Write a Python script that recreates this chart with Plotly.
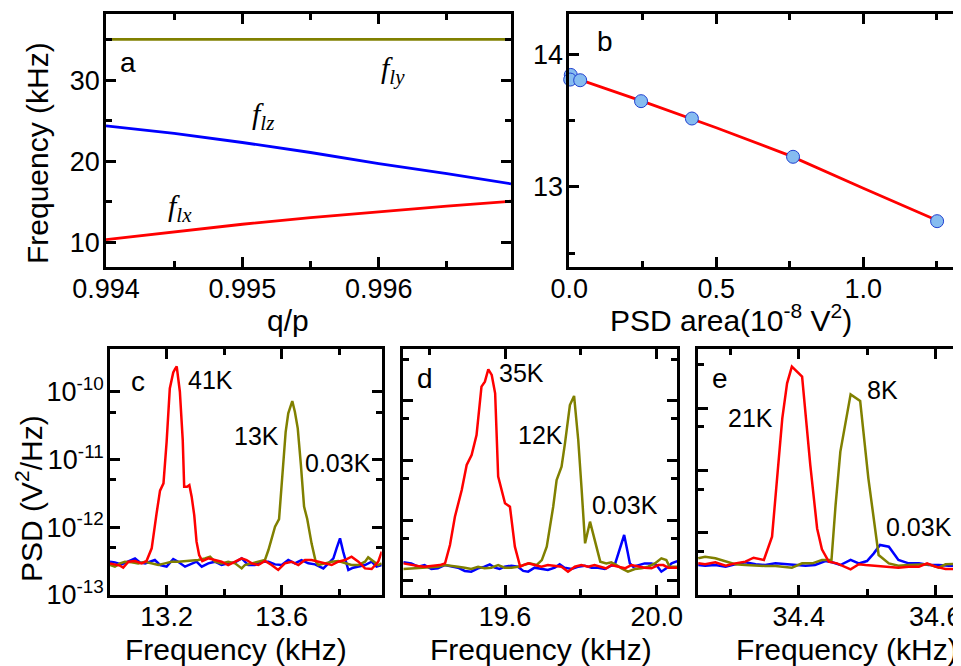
import plotly.graph_objects as go

# ---------------- panel a ----------------
qp = [0.994, 0.9945, 0.995, 0.9955, 0.996, 0.9965, 0.99697]
f_lx = [10.37, 11.31, 12.26, 13.08, 13.82, 14.48, 15.09]
f_lz = [24.37, 23.43, 22.32, 21.09, 19.73, 18.50, 17.23]
f_ly = [35.0, 35.0, 35.0, 35.0, 35.0, 35.0, 35.0]

# ---------------- panel b ----------------
psd_area = [0.005, 0.003, 0.037, 0.244, 0.417, 0.761, 1.251]
freq_b = [13.845, 13.81, 13.805, 13.647, 13.516, 13.227, 12.741]
fit_x = [0.0, 0.25, 0.5, 0.75, 1.0, 1.25]
fit_y = [13.836, 13.645, 13.446, 13.236, 12.990, 12.748]

# ---------------- panels c-e (PSD in units of 1e-13 V^2/Hz) ----------------
PSD_UNIT = 1e-13

c_red_f = [13.003, 13.020, 13.038, 13.049, 13.067, 13.090, 13.113, 13.130, 13.148, 13.165,
           13.177, 13.189, 13.200, 13.211, 13.223, 13.229, 13.235, 13.246, 13.256, 13.261,
           13.271, 13.279, 13.287, 13.296, 13.304, 13.313, 13.324, 13.345, 13.368, 13.391,
           13.414, 13.438, 13.461, 13.478, 13.496, 13.519, 13.542, 13.565, 13.588, 13.611,
           13.635, 13.658, 13.681, 13.704, 13.727, 13.751, 13.774, 13.797, 13.820, 13.843,
           13.867, 13.890, 13.913, 13.936, 13.948]
c_red_p = [2.93, 2.83, 2.71, 2.53, 3.10, 3.17, 2.93, 3.17, 4.88, 16.0,
           34.6, 44.4, 183, 1117, 1923, 2154, 2360, 998, 193, 39.6,
           39.6, 41.9, 28.2, 15.1, 6.12, 3.89, 3.17, 3.47, 3.28, 3.10,
           2.77, 3.10, 3.47, 3.28, 2.93, 2.77, 3.17, 2.77, 2.34, 2.93,
           3.10, 2.77, 3.28, 3.28, 3.10, 2.93, 2.77, 3.10, 3.28, 3.68,
           3.10, 2.47, 2.42, 3.10, 4.36]

c_olive_f = [13.003, 13.020, 13.038, 13.055, 13.078, 13.101, 13.125, 13.148, 13.171, 13.194,
             13.217, 13.240, 13.264, 13.287, 13.310, 13.333, 13.351, 13.368, 13.391, 13.414,
             13.438, 13.461, 13.472, 13.496, 13.519, 13.542, 13.554, 13.565, 13.577, 13.591,
             13.602, 13.614, 13.623, 13.630, 13.637, 13.646, 13.656, 13.667, 13.678, 13.689,
             13.704, 13.718, 13.727, 13.751, 13.774, 13.797, 13.820, 13.843, 13.867, 13.890,
             13.901, 13.919, 13.936, 13.948]
c_olive_p = [2.77, 2.62, 2.93, 3.10, 3.03, 2.93, 3.10, 2.93, 2.77, 2.93,
             3.10, 3.10, 3.17, 3.17, 3.28, 3.47, 3.68, 3.10, 2.93, 3.10,
             2.93, 2.47, 2.77, 2.93, 3.10, 3.28, 4.61, 6.85, 10.2, 13.2,
             55.6, 256, 478, 579, 727, 506, 287, 82.7, 20.1, 13.2,
             5.78, 3.17, 2.77, 2.93, 3.10, 3.17, 2.93, 2.77, 2.77, 3.10,
             3.59, 3.10, 2.77, 2.93]

c_blue_f = [13.003, 13.020, 13.043, 13.067, 13.090, 13.107, 13.125, 13.142, 13.159, 13.177,
            13.200, 13.223, 13.240, 13.264, 13.287, 13.304, 13.322, 13.345, 13.368, 13.391,
            13.414, 13.438, 13.461, 13.484, 13.507, 13.530, 13.554, 13.577, 13.600, 13.623,
            13.646, 13.669, 13.693, 13.716, 13.745, 13.762, 13.780, 13.791, 13.803, 13.814,
            13.832, 13.849, 13.867, 13.890, 13.913, 13.930, 13.948]
c_blue_p = [3.10, 3.03, 2.83, 3.10, 3.47, 3.03, 2.93, 3.10, 3.28, 2.77,
            2.62, 3.40, 3.10, 2.62, 2.93, 3.10, 2.62, 2.93, 3.10, 2.77,
            2.93, 3.03, 3.47, 2.77, 2.77, 3.10, 3.10, 2.83, 2.77, 3.28,
            2.93, 3.28, 2.93, 2.83, 2.47, 2.93, 3.47, 4.88, 6.85, 4.36,
            2.34, 2.53, 2.62, 2.77, 3.10, 2.62, 2.77]

d_red_f = [19.332, 19.353, 19.371, 19.388, 19.406, 19.428, 19.442, 19.455, 19.468, 19.486,
           19.499, 19.512, 19.525, 19.538, 19.547, 19.556, 19.565, 19.574, 19.582, 19.590,
           19.600, 19.613, 19.626, 19.640, 19.648, 19.661, 19.678, 19.696, 19.713, 19.731,
           19.749, 19.766, 19.784, 19.801, 19.819, 19.836, 19.854, 19.867, 19.880, 19.898,
           19.916, 19.933, 19.951, 19.968, 19.986, 20.004, 20.017, 20.030, 20.054]
d_red_p = [1.90, 1.78, 1.72, 1.67, 1.74, 1.78, 1.90, 3.86, 11.5, 32.2,
           84.6, 124, 269, 1738, 2109, 3396, 2729, 1344, 53.9, 34.4,
           19.3, 16.9, 3.62, 1.67, 1.78, 1.90, 1.78, 1.67, 1.78, 1.74,
           1.67, 1.38, 1.67, 1.78, 1.67, 1.78, 1.67, 1.57, 1.78, 1.67,
           1.57, 1.78, 1.67, 1.61, 1.57, 1.78, 1.78, 1.61, 1.61]

d_olive_f = [19.332, 19.353, 19.371, 19.388, 19.406, 19.423, 19.441, 19.459, 19.476, 19.494,
             19.511, 19.529, 19.546, 19.564, 19.582, 19.599, 19.617, 19.634, 19.652, 19.665,
             19.683, 19.697, 19.710, 19.727, 19.736, 19.749, 19.758, 19.771, 19.782, 19.793,
             19.802, 19.811, 19.824, 19.837, 19.851, 19.867, 19.880, 19.894, 19.907, 19.924,
             19.942, 19.960, 19.977, 19.995, 20.012, 20.025, 20.034, 20.054]
d_olive_p = [1.53, 1.57, 1.61, 1.61, 1.67, 1.67, 1.78, 1.74, 1.67, 1.61,
             1.53, 1.67, 1.57, 1.61, 1.78, 1.61, 1.61, 1.67, 1.83, 1.90,
             1.78, 2.16, 3.62, 16.9, 47.4, 79.3, 195, 857, 1213, 222,
             32.2, 4.12, 9.50, 4.68, 2.03, 1.90, 1.98, 1.78, 1.57, 1.38,
             1.53, 1.57, 1.67, 1.90, 2.31, 2.16, 1.67, 1.67]

d_blue_f = [19.332, 19.353, 19.371, 19.388, 19.406, 19.423, 19.441, 19.459, 19.476, 19.494,
            19.511, 19.529, 19.546, 19.560, 19.573, 19.586, 19.599, 19.617, 19.634, 19.648,
            19.661, 19.678, 19.696, 19.713, 19.731, 19.744, 19.757, 19.775, 19.792, 19.810,
            19.828, 19.845, 19.863, 19.880, 19.889, 19.898, 19.907, 19.914, 19.923, 19.929,
            19.938, 19.951, 19.968, 19.986, 19.999, 20.012, 20.025, 20.039, 20.054]
d_blue_p = [1.98, 1.90, 1.67, 1.78, 1.53, 1.57, 1.78, 1.67, 1.61, 1.42,
            1.38, 1.57, 1.67, 1.83, 1.61, 1.53, 1.67, 1.74, 1.67, 1.42,
            1.38, 1.61, 1.53, 1.47, 1.61, 1.83, 1.61, 1.53, 1.67, 1.74,
            1.61, 1.61, 1.53, 1.74, 1.78, 2.62, 3.86, 5.68, 2.98, 1.90,
            1.67, 1.78, 1.90, 1.90, 1.78, 1.38, 1.57, 1.90, 2.08]

e_red_f = [34.253, 34.263, 34.278, 34.293, 34.307, 34.322, 34.334, 34.349, 34.361, 34.368,
           34.376, 34.383, 34.390, 34.405, 34.417, 34.427, 34.434, 34.444, 34.456, 34.476,
           34.488, 34.498, 34.517, 34.537, 34.546, 34.561, 34.576, 34.588, 34.600, 34.615,
           34.629, 34.642]
e_red_p = [3.22, 3.11, 3.35, 2.96, 3.22, 3.43, 3.97, 3.65, 8.64, 74.6,
           685, 2500, 4624, 3197, 122, 11.7, 5.41, 3.43, 3.22, 2.58,
           3.11, 3.03, 2.92, 2.78, 2.75, 2.85, 2.85, 3.22, 2.85, 2.61,
           2.61, 2.85]

e_olive_f = [34.253, 34.263, 34.278, 34.293, 34.307, 34.322, 34.337, 34.351, 34.366, 34.380,
             34.390, 34.405, 34.420, 34.434, 34.448, 34.454, 34.461, 34.476, 34.490, 34.502,
             34.517, 34.532, 34.546, 34.561, 34.576, 34.590, 34.605, 34.615, 34.629, 34.642]
e_olive_p = [3.88, 4.12, 3.88, 3.43, 3.11, 3.03, 2.96, 2.92, 2.92, 2.85,
             2.75, 3.22, 3.22, 3.65, 3.65, 27.8, 200, 1663, 1300, 74.6,
             4.39, 3.22, 2.96, 3.03, 3.03, 3.11, 2.75, 3.11, 3.14, 3.11]

e_blue_f = [34.253, 34.263, 34.278, 34.293, 34.307, 34.322, 34.337, 34.351, 34.366, 34.380,
            34.395, 34.410, 34.424, 34.439, 34.449, 34.461, 34.476, 34.488, 34.500, 34.510,
            34.519, 34.532, 34.546, 34.561, 34.576, 34.590, 34.605, 34.620, 34.642]
e_blue_p = [3.03, 2.96, 3.03, 2.85, 3.11, 3.35, 3.11, 3.03, 3.22, 3.11,
            3.03, 2.96, 3.03, 3.51, 3.35, 3.03, 3.65, 3.22, 3.51, 4.66,
            6.35, 5.97, 3.65, 3.22, 3.22, 3.03, 3.03, 2.96, 2.96]

RED = "#ff0000"
BLUE = "#0000ff"
OLIVE = "#808000"
W, H = 961, 666
OFF = 8  # page offset of the plot div
FONT = "Liberation Sans, Arial, sans-serif"


def px(x):
    return (x - OFF) / W


def py(y):
    return 1 - (y - OFF) / H


def scale(vals):
    return [v * PSD_UNIT for v in vals]


fig = go.Figure()

# panel a
for yv, col in [(f_ly, OLIVE), (f_lz, BLUE), (f_lx, RED)]:
    fig.add_trace(go.Scatter(x=qp, y=yv, mode="lines", line=dict(color=col, width=2.8),
                             xaxis="x", yaxis="y", showlegend=False))

# panel b
fig.add_trace(go.Scatter(x=fit_x, y=fit_y, mode="lines", line=dict(color=RED, width=2.8),
                         xaxis="x2", yaxis="y2", showlegend=False))
fig.add_trace(go.Scatter(x=psd_area, y=freq_b, mode="markers", cliponaxis=False,
                         marker=dict(size=13, color="#86bcf0", line=dict(color="#2040d0", width=1)),
                         xaxis="x2", yaxis="y2", showlegend=False))

# panels c, d, e
panels = [
    ("x3", "y3", [(c_blue_f, c_blue_p, BLUE), (c_olive_f, c_olive_p, OLIVE), (c_red_f, c_red_p, RED)]),
    ("x4", "y4", [(d_blue_f, d_blue_p, BLUE), (d_olive_f, d_olive_p, OLIVE), (d_red_f, d_red_p, RED)]),
    ("x5", "y5", [(e_blue_f, e_blue_p, BLUE), (e_olive_f, e_olive_p, OLIVE), (e_red_f, e_red_p, RED)]),
]
for xa, ya, series in panels:
    for f, p, col in series:
        fig.add_trace(go.Scatter(x=f, y=scale(p), mode="lines", line=dict(color=col, width=2.5),
                                 xaxis=xa, yaxis=ya, showlegend=False))


def axis(domain, anchor, rng, tickvals, ticktext, minor, labels=True, log=False, standoff=0):
    mn = dict(ticks="inside", ticklen=6, tickwidth=2.5, tickcolor="black", showgrid=False)
    mn.update(minor)
    d = dict(domain=domain, anchor=anchor, range=rng, showline=True, linecolor="black",
             linewidth=2.7, mirror="ticks", ticks="inside", ticklen=10, tickwidth=2.5,
             tickcolor="black", showgrid=False, zeroline=False, tickmode="array",
             automargin=False, tickvals=tickvals, ticktext=ticktext, showticklabels=labels,
             ticklabelstandoff=standoff,
             tickfont=dict(size=27, color="black", family=FONT), minor=mn)
    if log:
        d["type"] = "log"
    return d


top_dom = [py(267), py(14)]
bot_dom = [py(595), py(349.3)]
dec = [1e-13, 1e-12, 1e-11, 1e-10]
dec_txt = ["10<sup>-13</sup>", "10<sup>-12</sup>", "10<sup>-11</sup>", "10<sup>-10</sup>"]
fives = dict(tickmode="array", tickvals=[5e-14, 5e-13, 5e-12, 5e-11, 5e-10])

fig.update_layout(
    width=W, height=H, margin=dict(l=0, r=0, t=0, b=0),
    paper_bgcolor="white", plot_bgcolor="white",
    font=dict(family=FONT, color="black"),
    xaxis=axis([px(106), px(511)], "y", [0.994, 0.99697], [0.994, 0.995, 0.996],
               ["0.994", "0.995", "0.996"], dict(tickmode="linear", tick0=0.9945, dtick=0.001),
               standoff=-4),
    yaxis=axis(top_dom, "x", [7.0, 38.13], [10, 20, 30], ["10", "20", "30"],
               dict(tickmode="linear", tick0=5, dtick=10), standoff=-2),
    xaxis2=axis([px(569.3), px(964)], "y2", [0.0, 1.3425], [0.0, 0.5, 1.0], ["0.0", "0.5", "1.0"],
                dict(tickmode="linear", tick0=0.25, dtick=0.5), standoff=-4),
    yaxis2=axis(top_dom, "x2", [12.395, 14.305], [13, 14], ["13", "14"],
                dict(tickmode="linear", tick0=12.5, dtick=1), standoff=-2),
    xaxis3=axis([px(110), px(381.7)], "y3", [13.003, 13.948], [13.2, 13.6], ["13.2", "13.6"],
                dict(tickmode="array", tickvals=[13.0, 13.4, 13.8]), standoff=-4),
    yaxis3=axis(bot_dom, "x3", [-13, -9.375], dec, dec_txt, fives, log=True, standoff=-2),
    xaxis4=axis([px(403.3), px(677.3)], "y4", [19.332, 20.054], [19.6, 20.0], ["19.6", "20.0"],
                dict(tickmode="array", tickvals=[19.4, 19.8]), standoff=-4),
    yaxis4=axis(bot_dom, "x4", [-13.251, -9.134], dec, dec_txt, fives, labels=False, log=True),
    xaxis5=axis([px(698), px(964)], "y5", [34.2526, 34.642], [34.4, 34.6], ["34.4", "34.6"],
                dict(tickmode="array", tickvals=[34.3, 34.5]), standoff=-4),
    yaxis5=axis(bot_dom, "x5", [-13, -9.056], dec, dec_txt, fives, labels=False, log=True),
)


def label(x, y, text, size=26, angle=0, family=FONT):
    fig.add_annotation(x=px(x), y=py(y), xref="paper", yref="paper", text=text,
                       showarrow=False, textangle=angle, xanchor="center", yanchor="middle",
                       font=dict(size=size, color="black", family=family))


# axis titles
label(37, 153, "Frequency (kHz)", size=30, angle=-90)
label(288, 320, "q/p", size=30)
label(731, 318, "PSD area(10<sup>-8</sup> V<sup>2</sup>)", size=30)
label(29, 499, "PSD (V<sup>2</sup>/Hz)", size=30, angle=-90)
label(236, 649, "Frequency (kHz)", size=30)
label(541, 649, "Frequency (kHz)", size=30)
label(847, 649, "Frequency (kHz)", size=30)

# panel letters
label(128, 62, "a", size=28)
label(605, 41, "b", size=28)
label(138, 381, "c", size=28)
label(425, 378, "d", size=28)
label(720, 378, "e", size=28)

# curve labels panel a
SERIF = "Liberation Serif, Times New Roman, serif"
label(393, 70, "<i>f<sub>ly</sub></i>", size=30, family=SERIF)
label(263, 116, "<i>f<sub>lz</sub></i>", size=30, family=SERIF)
label(180, 208, "<i>f<sub>lx</sub></i>", size=30, family=SERIF)

# temperature labels
label(210, 380, "41K", size=25)
label(257, 436, "13K", size=25)
label(338, 463, "0.03K", size=25)
label(521, 373, "35K", size=25)
label(540, 435, "12K", size=25)
label(625, 505, "0.03K", size=25)
label(750, 418, "21K", size=25)
label(882, 390, "8K", size=25)
label(919, 527, "0.03K", size=25)

fig.write_html("out.html")
